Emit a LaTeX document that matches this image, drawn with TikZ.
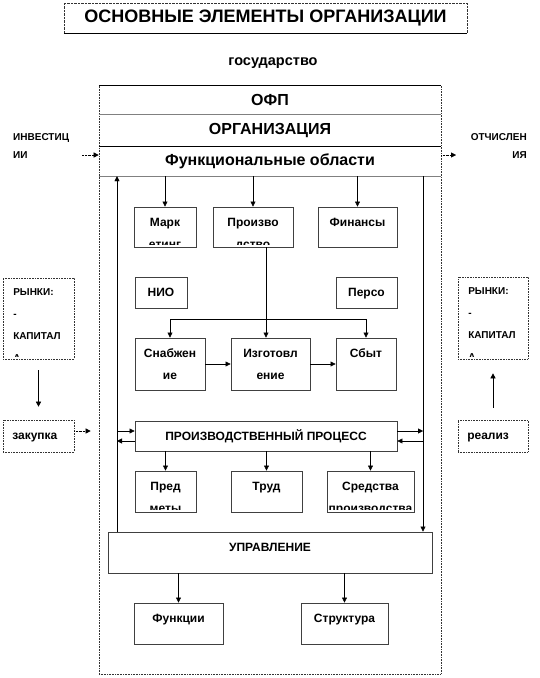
\documentclass[tikz,border=0pt]{standalone}
\usepackage{fontspec}
\setmainfont{Liberation Sans}
\usetikzlibrary{calc, positioning}
\usetikzlibrary{arrows.meta}

\tikzset{
  arr/.style={-{Triangle[length=5pt,width=5pt]}},
  darr/.style={arr, densely dotted},
  inside/.style={inner sep=0pt, minimum width=0pt, minimum height=0pt},
  cell/.style={draw=black!75, line width=0.8pt, inner sep=0pt,
    path picture={
      \clip ([yshift=2.5pt]path picture bounding box.south west) rectangle (path picture bounding box.north east);
      \node[inside, font=\bfseries\fontsize{12}{22}\selectfont, align=center, anchor=north]
      at ([yshift=-7pt]path picture bounding box.north) {\rule{0pt}{12pt}#1};}},
  market/.style={draw=black!80, densely dotted, line width=0.6pt, inner sep=0pt,
    path picture={
      \clip ([yshift=2.5pt]path picture bounding box.south west) rectangle (path picture bounding box.north east);
      \node[inside, font=\bfseries\fontsize{10}{22}\selectfont, align=left, anchor=north west]
      at ([xshift=10pt,yshift=-5pt]path picture bounding box.north west) {\rule{0pt}{12pt}#1};}},
  trade/.style={draw=black!80, densely dotted, line width=0.6pt, inner sep=0pt,
    path picture={\node[inside, font=\bfseries\fontsize{12}{14}\selectfont, anchor=base west]
      at ([xshift=9pt,yshift=-19pt]path picture bounding box.north west) {#1};}},
  band/.style={font=\bfseries\fontsize{16}{18}\selectfont, minimum width=342pt, inner sep=0pt},
  flow/.style={font=\bfseries\fontsize{10}{18}\selectfont, inner sep=0pt},
}

\begin{document}
\begin{tikzpicture}[x=1pt, y=-1pt]
\useasboundingbox (0,0) rectangle (539,678);

% title
\node[draw=black!80, densely dotted, minimum width=403pt, minimum height=30pt,
  font=\bfseries\fontsize{18}{20}\selectfont] (title) at (265.5,18) {ОСНОВНЫЕ ЭЛЕМЕНТЫ ОРГАНИЗАЦИИ};
\draw (title.south west) -- (title.south east);
\node[font=\bfseries\fontsize{14.5}{16}\selectfont] (gos) at (273,63) {государство};

% organisation frame
\node[draw=black!80, densely dotted, line width=0.6pt, minimum width=342pt, minimum height=589pt] (frame) at (270,379.5) {};
\node[band, minimum height=30pt] (ofp) at (270,100) {ОФП};
\node[band, minimum height=31pt] (orgn) at (270,130.5) {ОРГАНИЗАЦИЯ};
\node[band, minimum height=30pt] (fobl) at (270,161) {Функциональные области};
\draw (ofp.north west) -- (ofp.north east);
\draw[black!50, line width=1.2pt] (orgn.north west) -- (orgn.north east);
\draw (fobl.north west) -- (fobl.north east);
\draw[black!50, line width=1.2pt] (fobl.south west) -- (fobl.south east);

% functional areas
\node[cell={Марк\\етинг}, minimum width=62pt, minimum height=40pt] (mark) at (165,227) {};
\node[cell={Произво\\дство}, minimum width=80pt, minimum height=40pt] (proizv) at (253,227) {};
\node[cell=Финансы, minimum width=79pt, minimum height=40pt] (fin) at (357.5,227) {};
\node[cell=НИО, minimum width=52pt, minimum height=31pt] (nio) at (161,292.5) {};
\node[cell=Персо, minimum width=61pt, minimum height=31pt] (perso) at (366.5,292.5) {};
\node[cell={Снабжен\\ие}, minimum width=70pt, minimum height=52pt] (snab) at (170,364) {};
\node[cell={Изготовл\\ение}, minimum width=79pt, minimum height=52pt] (izg) at (270.5,364) {};
\node[cell=Сбыт, minimum width=60pt, minimum height=52pt] (sbyt) at (366,364) {};

% production process
\node[cell=ПРОИЗВОДСТВЕННЫЙ ПРОЦЕСС, minimum width=262pt, minimum height=30pt] (pp) at (266,436) {};
\node[cell={Пред\\меты}, minimum width=61pt, minimum height=41pt] (pred) at (165.5,491.5) {};
\node[cell=Труд, minimum width=71pt, minimum height=41pt] (trud) at (266.5,491.5) {};
\node[cell={Средства\\производства}, minimum width=87pt, minimum height=41pt] (sred) at (370.5,491.5) {};

% management
\node[cell=УПРАВЛЕНИЕ, minimum width=324pt, minimum height=41pt] (upr) at (270,552.5) {};
\node[cell=Функции, minimum width=89pt, minimum height=41pt] (func) at (178.5,623.5) {};
\node[cell=Структура, minimum width=87pt, minimum height=41pt] (struc) at (344.5,623.5) {};

% markets
\node[market={РЫНКИ:\\-\\КАПИТАЛ\\А}, minimum width=71pt, minimum height=81pt] (rynl) at (38.5,318.5) {};
\node[market={РЫНКИ:\\-\\КАПИТАЛ\\А}, minimum width=70pt, minimum height=82pt] (rynr) at (493,318) {};
\node[trade=закупка, minimum width=71pt, minimum height=32pt] (zak) at (38.5,436) {};
\node[trade=реализ, minimum width=70pt, minimum height=32pt] (real) at (493,436) {};
\node[flow, align=left, anchor=north west] (inv) at (13,133.5) {ИНВЕСТИЦ\\ИИ};
\node[flow, align=right, anchor=north east] (otch) at (527,133.5) {ОТЧИСЛЕН\\ИЯ};
\coordinate (invs) at (82,155);
\coordinate (otche) at (456,155);
\coordinate (lx) at (117,0);
\coordinate (rx) at (423,0);
\coordinate (br) at (266,319);

% connectors
\draw[arr] (upr.north -| lx) -- (fobl.south -| lx);
\draw[arr] (fobl.south -| rx) -- (upr.north -| rx);
\draw[arr] (mark.north |- fobl.south) -- (mark.north);
\draw[arr] (proizv.north |- fobl.south) -- (proizv.north);
\draw[arr] (fin.north |- fobl.south) -- (fin.north);
\draw[arr] (proizv.south -| br) -- (izg.north -| br);
\draw (br -| snab.north) -- (br -| sbyt.north);
\draw[arr] (br -| snab.north) -- (snab.north);
\draw[arr] (br -| sbyt.north) -- (sbyt.north);
\draw[arr] (snab.east) -- (izg.west);
\draw[arr] (izg.east) -- (sbyt.west);
\draw[arr] ([yshift=5pt]pp.west -| lx) -- ([yshift=5pt]pp.west);
\draw[arr] ([yshift=-5pt]pp.west) -- ([yshift=-5pt]pp.west -| lx);
\draw[arr] ([yshift=5pt]pp.east) -- ([yshift=5pt]pp.east -| rx);
\draw[arr] ([yshift=-5pt]pp.east -| rx) -- ([yshift=-5pt]pp.east);
\draw[arr] (pred.north |- pp.south) -- (pred.north);
\draw[arr] (trud.north |- pp.south) -- (trud.north);
\draw[arr] (sred.north |- pp.south) -- (sred.north);
\draw[arr] (func.north |- upr.south) -- (func.north);
\draw[arr] (struc.north |- upr.south) -- (struc.north);
\draw[arr, shorten <=11pt, shorten >=13pt] (rynl.south) -- (zak.north);
\draw[arr, shorten <=12pt, shorten >=14pt] (real.north) -- (rynr.south);
\draw[darr, shorten >=8pt] ([yshift=5pt]zak.east) -- ([yshift=5pt]zak.east -| frame.west);
\draw[darr] (invs) -- (invs -| frame.west);
\draw[darr] (invs -| frame.east) -- (otche);
\end{tikzpicture}
\end{document}
